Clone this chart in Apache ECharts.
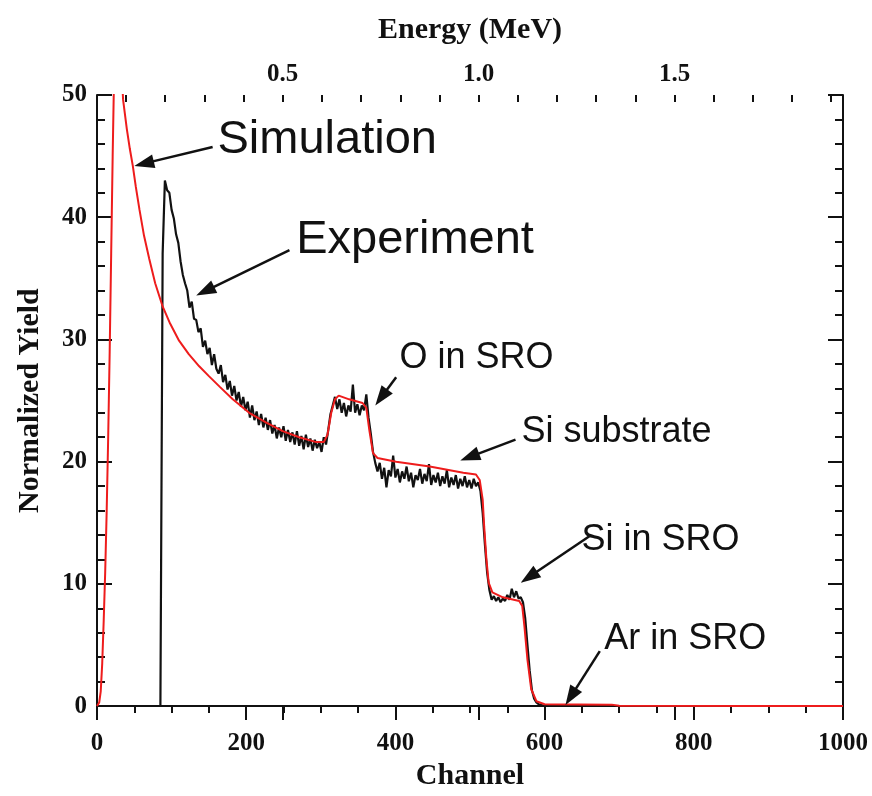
<!DOCTYPE html>
<html>
<head>
<meta charset="utf-8">
<script src="https://cdn.jsdelivr.net/npm/echarts@6/dist/echarts.min.js"></script>
<style>
  html, body { margin: 0; padding: 0; background: #ffffff; }
  #chart { width: 872px; height: 796px; }
</style>
</head>
<body>
<div id="chart"></div>
<script>
// ---- Axis ranges and tick values ----
const channelRange = [0, 1000];
const yieldRange = [0, 50];
const channelTickStep = 200;
const yieldTickStep = 10;
// Energy scale along the top edge (MeV at channel 0 and channel 1000)
const energyRange = [0.026, 1.930];
const energyLabelTicks = [0.5, 1.0, 1.5];
const energyMinorTicks = [0.1, 0.2, 0.3, 0.4, 0.5, 0.6, 0.7, 0.8, 0.9, 1.0,
                          1.1, 1.2, 1.3, 1.4, 1.5, 1.6, 1.7, 1.8, 1.9];

// ---- Simulated spectrum: [channel, normalized yield] ----
const simulation = [
  [0, 0], [3, 0.3], [5, 1.2], [7, 3.5], [9, 7], [11, 11], [13, 16], [15, 22],
  [17, 29], [19, 37], [21, 45], [23, 52], [26, 58], [29, 57], [32, 53],
  [35, 49.6], [40, 47.2], [44, 45.6], [48, 44.2], [52, 42.5], [57, 40.6],
  [63, 38.5], [70, 36.6], [78, 34.6], [88, 32.7], [98, 31.3], [110, 29.9],
  [123, 28.8], [137, 27.8], [150, 27.0], [165, 26.1], [182, 25.1], [204, 24.0],
  [227, 23.2], [249, 22.5], [271, 22.0], [294, 21.6], [304, 21.6], [309, 22.2],
  [314, 24.0], [319, 25.1], [324, 25.4], [338, 25.1], [356, 24.8], [361, 24.4],
  [365, 22.6], [370, 20.7], [376, 20.3], [401, 20.0], [446, 19.6], [491, 19.1],
  [508, 18.95], [513, 18.5], [517, 16.9], [519, 14.7], [522, 12.0], [525, 10.1],
  [530, 9.3], [544, 8.9], [566, 8.6], [570, 8.2], [573, 6.5], [577, 3.8],
  [582, 1.4], [589, 0.4], [600, 0.15], [690, 0.12], [700, 0.02], [1000, 0]
];

// ---- Measured spectrum: one yield value every 3 channels from channel 85 ----
const experimentFirstChannel = 85;
const experimentChannelStep = 3;
const experimentYield = [
  0, 37, 43.0, 42.2, 42.0, 40.6, 39.9, 38.6, 37.9, 36.4,
  35.3, 34.6, 34.0, 32.6, 33.1, 31.7, 31.6, 30.6, 30.9, 29.4,
  29.9, 28.8, 29.3, 27.9, 28.8, 27.6, 27.2, 27.9, 26.5, 27.1,
  25.9, 26.6, 25.4, 26.2, 25.0, 25.7, 24.5, 25.3, 24.2, 24.9,
  23.6, 24.6, 23.4, 24.1, 23.0, 23.9, 22.8, 23.6, 22.6, 23.4,
  22.3, 23.0, 21.9, 22.8, 22.0, 22.9, 21.7, 22.6, 21.6, 22.4,
  21.4, 22.5, 21.3, 22.1, 21.0, 22.2, 21.2, 21.9, 20.9, 21.8,
  21.1, 21.6, 20.8, 22.0, 21.4, 22.6, 23.9, 24.6, 25.3, 24.3,
  25.1, 24.0, 24.8, 23.7, 24.6, 24.1, 26.3, 24.0, 24.7, 23.8,
  24.6, 24.2, 25.5, 23.6, 22.3, 20.8, 19.9, 19.2, 19.9, 18.6,
  19.5, 17.9, 19.3, 18.8, 20.5, 18.7, 19.4, 18.3, 19.2, 18.6,
  19.6, 18.4, 19.1, 17.9, 18.9, 18.5, 19.4, 18.2, 19.0, 18.4,
  19.8, 18.1, 18.9, 18.3, 19.1, 18.0, 18.8, 18.2, 19.3, 17.9,
  18.7, 18.1, 18.9, 17.8, 18.6, 18.0, 18.8, 17.9, 18.5, 17.8,
  18.6, 18.0, 18.3, 17.6, 15.8, 13.2, 10.9, 9.5, 8.7, 9.0,
  8.6, 8.9, 8.5, 8.8, 8.6, 9.1, 8.7, 9.6, 8.9, 9.4,
  8.8, 8.9, 8.5, 7.2, 5.0, 2.9, 1.3, 0.6, 0.3, 0.15,
  0.1, 0.05
];

// ---- Callouts: text anchor (left edge, vertical middle), arrow tail and tip, in data units ----
const calloutText = ['Simulation', 'Experiment', 'O in SRO', 'Si substrate', 'Si in SRO', 'Ar in SRO'];
const calloutTextAt = [[161.5, 46.3], [267, 38.15], [405.5, 28.5], [569, 22.4], [649.5, 13.6], [680, 5.5]];
const calloutArrowFrom = [[155, 45.75], [258, 37.3], [401, 26.9], [561, 21.8], [660, 13.9], [674, 4.5]];
const calloutArrowTo = [[50, 44.2], [133, 33.6], [373, 24.6], [487, 20.1], [568, 10.1], [628, 0.08]];
const calloutFontSize = [47, 47, 36, 36, 36, 36];

const experiment = experimentYield.map((y, i) => [experimentFirstChannel + i * experimentChannelStep, y]);

const serif = '"Liberation Serif", "Times New Roman", serif';
const sans = '"Liberation Sans", Arial, sans-serif';
const ink = '#111111';

const chart = echarts.init(document.getElementById('chart'), null, { renderer: 'canvas' });

const tickLabelStyle = { color: ink, fontFamily: serif, fontWeight: 'bold', fontSize: 25 };
const titleStyle = { color: ink, fontFamily: serif, fontWeight: 'bold', fontSize: 30 };
const axisLine = { show: true, lineStyle: { color: ink, width: 2 } };

const option = {
  backgroundColor: '#ffffff',
  animation: false,
  grid: { left: 97, right: 29, top: 95, bottom: 89, containLabel: false },
  xAxis: [
    {
      type: 'value', position: 'bottom',
      min: channelRange[0], max: channelRange[1], interval: channelTickStep,
      axisLine: axisLine,
      axisTick: { show: true, inside: false, length: 14, lineStyle: { color: ink, width: 2 } },
      minorTick: { show: true, splitNumber: 4, length: 7, lineStyle: { color: ink, width: 2 } },
      axisLabel: Object.assign({ margin: 25, formatter: v => String(v) }, tickLabelStyle),
      splitLine: { show: false },
      name: 'Channel', nameLocation: 'middle', nameGap: 52, nameTextStyle: titleStyle
    },
    {
      type: 'value', position: 'top',
      min: energyRange[0], max: energyRange[1],
      axisLine: axisLine,
      axisTick: { show: true, inside: true, length: 14, customValues: energyLabelTicks,
                  lineStyle: { color: ink, width: 2 } },
      axisLabel: Object.assign({ margin: 8, customValues: energyLabelTicks,
                                 formatter: v => Number(v).toFixed(1) }, tickLabelStyle),
      splitLine: { show: false },
      name: 'Energy (MeV)', nameLocation: 'middle', nameGap: 50, nameTextStyle: titleStyle
    },
    {
      type: 'value', position: 'top',
      min: energyRange[0], max: energyRange[1],
      axisLine: { show: false },
      axisTick: { show: true, inside: true, length: 7, customValues: energyMinorTicks,
                  lineStyle: { color: ink, width: 2 } },
      axisLabel: { show: false },
      splitLine: { show: false }
    }
  ],
  yAxis: [
    {
      type: 'value', position: 'left',
      min: yieldRange[0], max: yieldRange[1], interval: yieldTickStep,
      axisLine: axisLine,
      axisTick: { show: true, inside: true, length: 15, lineStyle: { color: ink, width: 2 } },
      minorTick: { show: true, splitNumber: 5, length: 8, lineStyle: { color: ink, width: 2 } },
      axisLabel: Object.assign({ margin: 10 }, tickLabelStyle),
      splitLine: { show: false },
      name: 'Normalized Yield', nameLocation: 'middle', nameGap: 52, nameTextStyle: titleStyle
    },
    {
      type: 'value', position: 'right',
      min: yieldRange[0], max: yieldRange[1], interval: yieldTickStep,
      axisLine: axisLine,
      axisTick: { show: true, inside: true, length: 15, lineStyle: { color: ink, width: 2 } },
      minorTick: { show: true, splitNumber: 5, length: 8, lineStyle: { color: ink, width: 2 } },
      axisLabel: { show: false },
      splitLine: { show: false }
    }
  ],
  series: [
    {
      name: 'Experiment', type: 'line', xAxisIndex: 0, yAxisIndex: 0,
      data: experiment, showSymbol: false, symbol: 'none', clip: true,
      lineStyle: { color: ink, width: 2.2 }, z: 3
    },
    {
      name: 'Simulation', type: 'line', xAxisIndex: 0, yAxisIndex: 0,
      data: simulation, showSymbol: false, symbol: 'none', clip: true,
      lineStyle: { color: '#ee1c1c', width: 2 }, z: 4
    }
  ]
};

chart.setOption(option);

// Callout labels and arrows, placed from data coordinates
function toPx(p) { return chart.convertToPixel({ seriesIndex: 1 }, p); }

const graphics = [];
calloutText.forEach((text, i) => {
  const at = toPx(calloutTextAt[i]);
  graphics.push({
    type: 'text', x: at[0], y: at[1], z: 10,
    style: { text: text, fill: ink, font: calloutFontSize[i] + 'px ' + sans,
             align: 'left', verticalAlign: 'middle' }
  });
  const a = toPx(calloutArrowFrom[i]);
  const b = toPx(calloutArrowTo[i]);
  const dx = b[0] - a[0], dy = b[1] - a[1];
  const len = Math.sqrt(dx * dx + dy * dy);
  const ux = dx / len, uy = dy / len;
  const headLen = 20, headHalf = 7;
  const bx = b[0] - ux * headLen, by = b[1] - uy * headLen;
  graphics.push({
    type: 'line', z: 10,
    shape: { x1: a[0], y1: a[1], x2: bx + ux * 2, y2: by + uy * 2 },
    style: { stroke: ink, lineWidth: 2.5 }
  });
  graphics.push({
    type: 'polygon', z: 10,
    shape: { points: [[b[0], b[1]], [bx - uy * headHalf, by + ux * headHalf], [bx + uy * headHalf, by - ux * headHalf]] },
    style: { fill: ink }
  });
});
chart.setOption({ graphic: graphics });
</script>
</body>
</html>
